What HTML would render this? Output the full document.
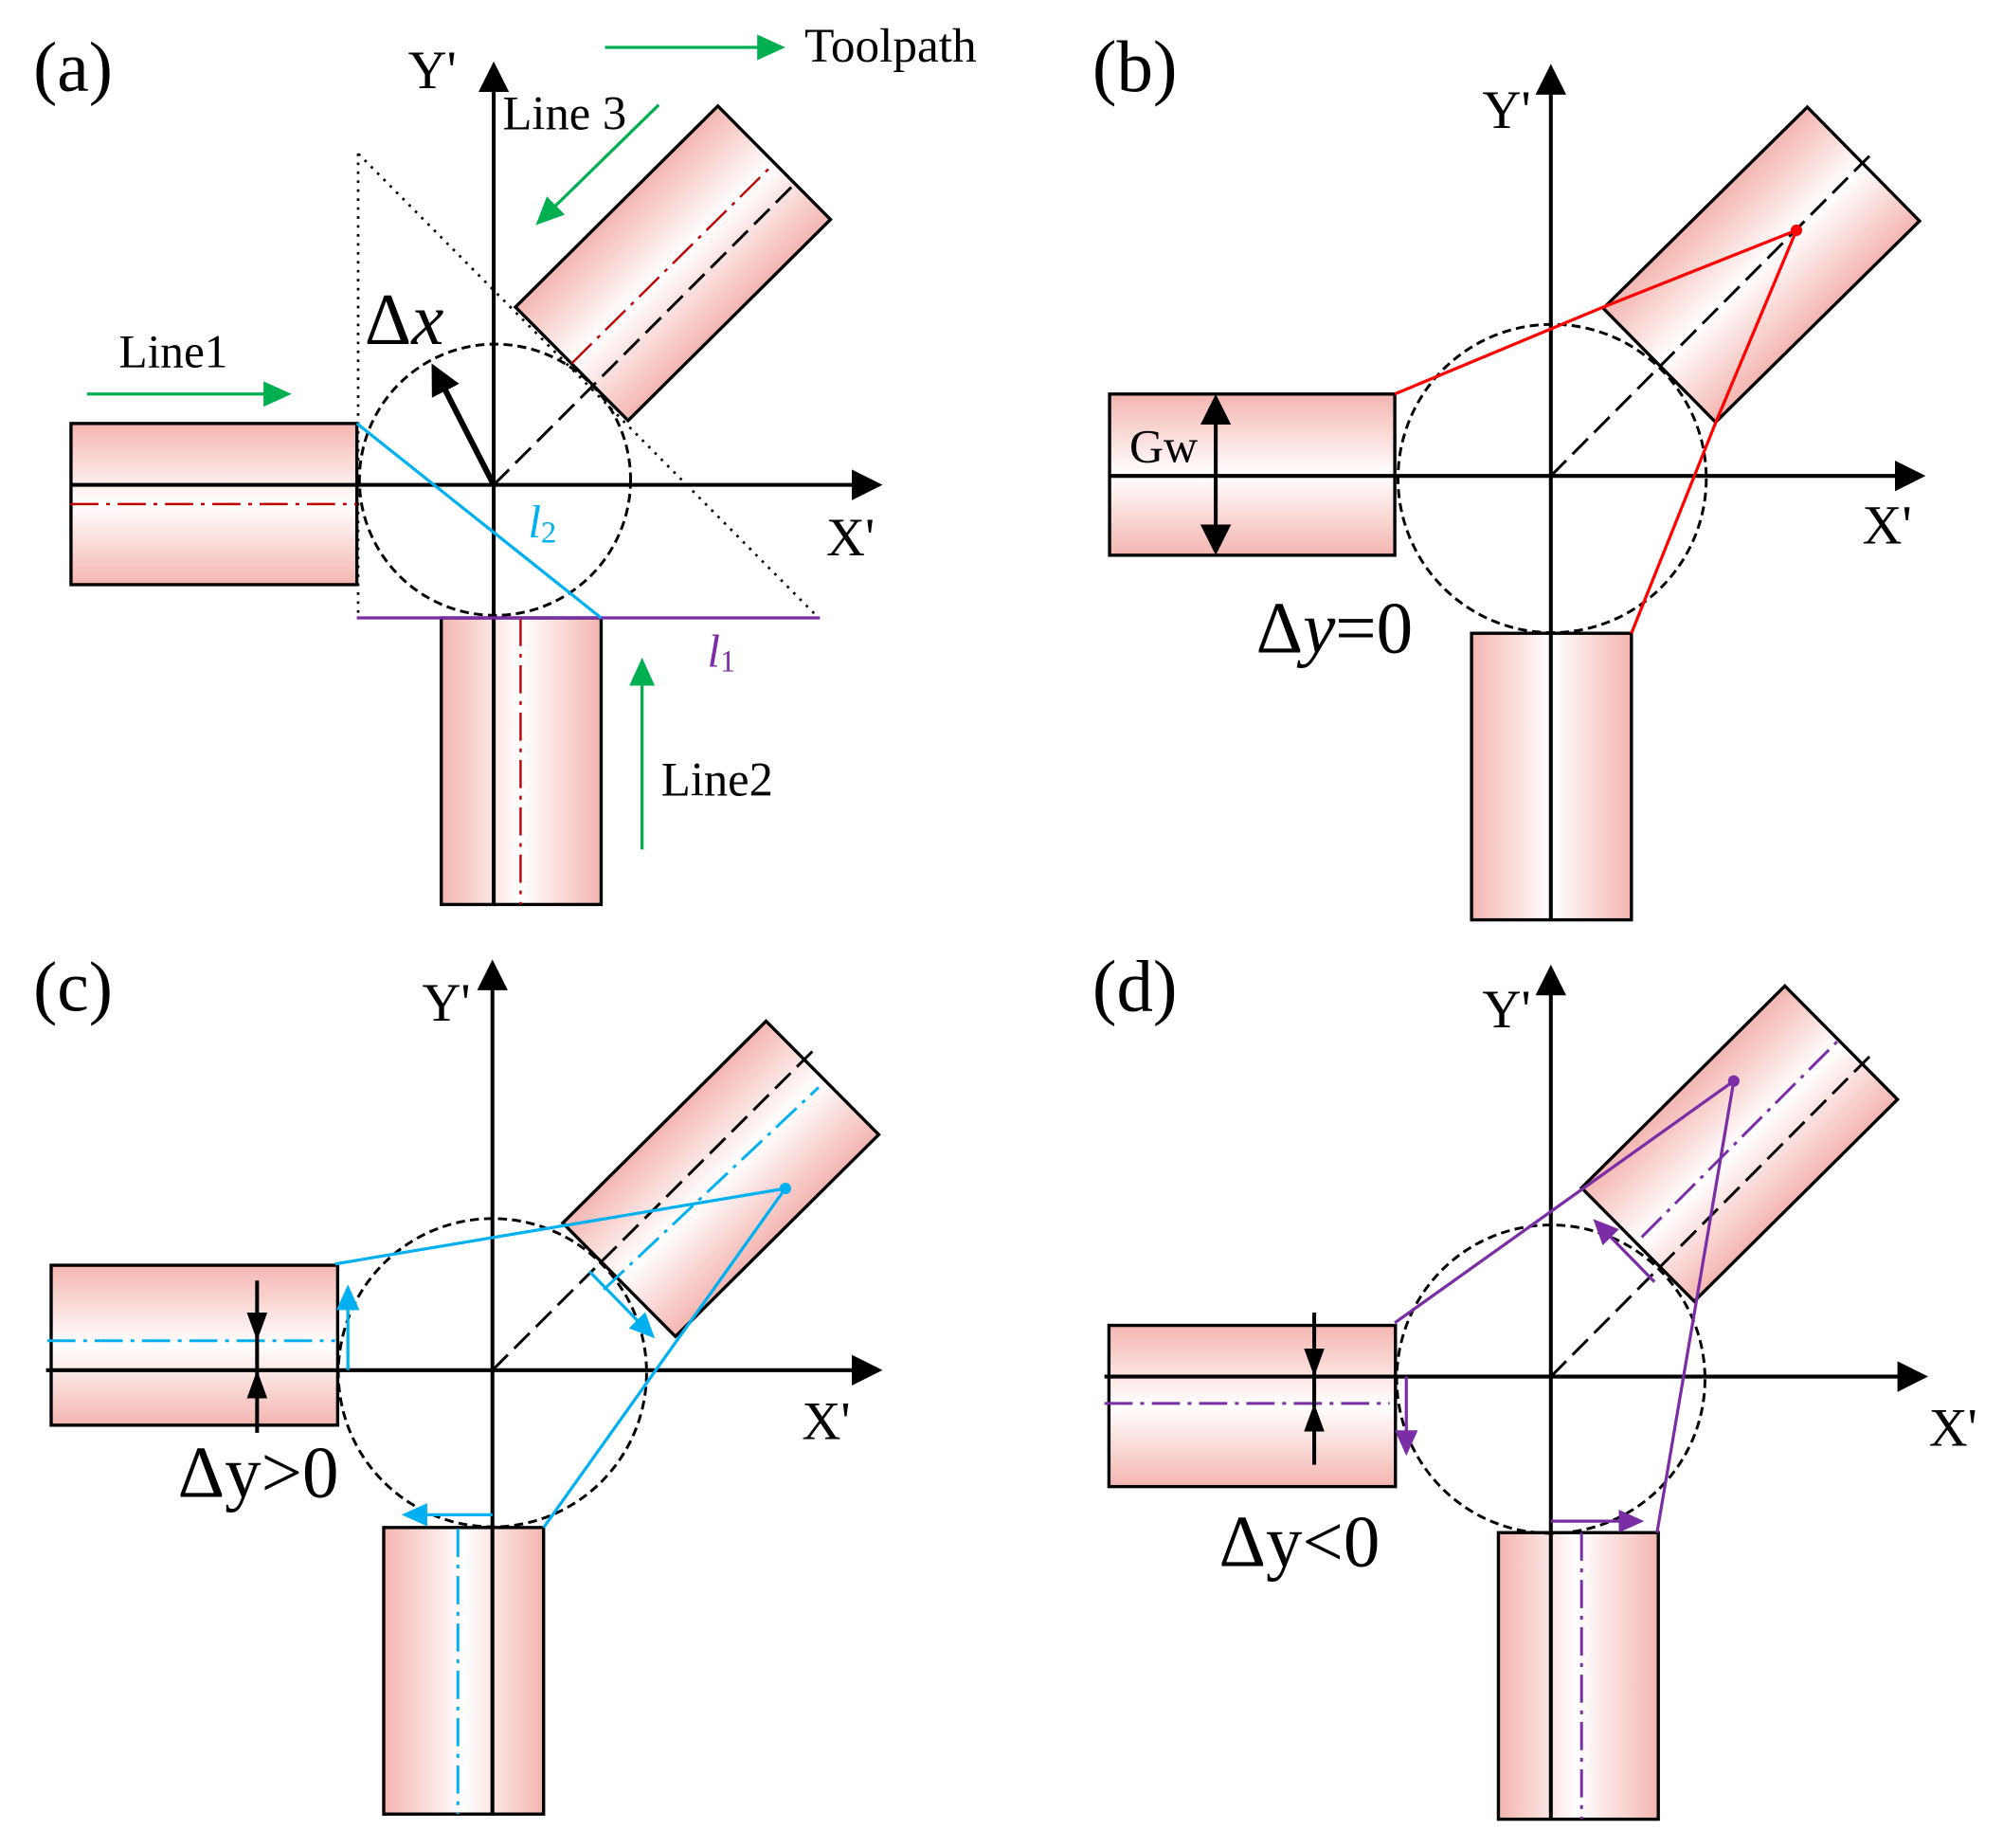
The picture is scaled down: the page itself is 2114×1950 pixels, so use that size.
<!DOCTYPE html>
<html><head><meta charset="utf-8"><style>
html,body{margin:0;padding:0;background:#fff}
svg{display:block}
text{font-family:"Liberation Serif",serif;fill:#000}
.r{stroke:#000;stroke-width:2.5}
.ax{stroke:#000;stroke-width:3;fill:none}
.c{fill:none;stroke:#000;stroke-width:2.2;stroke-dasharray:7 4}
.d{stroke:#000;stroke-width:2.2;stroke-dasharray:17 7;fill:none}
.dd{stroke-width:1.8;stroke-dasharray:22 6 3 6;fill:none}
</style></head><body>
<svg xmlns="http://www.w3.org/2000/svg" width="2114" height="1950" viewBox="0 0 1566 1444.5">
<defs>
<linearGradient id="v" x1="0" y1="0" x2="0" y2="1"><stop offset="0" stop-color="#f4b5b0"/><stop offset=".5" stop-color="#fff"/><stop offset="1" stop-color="#f4b5b0"/></linearGradient>
<linearGradient id="h" x1="0" y1="0" x2="1" y2="0"><stop offset="0" stop-color="#f4b5b0"/><stop offset=".5" stop-color="#fff"/><stop offset="1" stop-color="#f4b5b0"/></linearGradient>
<marker id="mk" markerUnits="userSpaceOnUse" markerWidth="24" markerHeight="24" viewBox="0 0 24 24" refX="14" refY="12" orient="auto"><path d="M0,0L24,12L0,24z" fill="#000"/></marker>
<marker id="ms" markerUnits="userSpaceOnUse" markerWidth="22" markerHeight="16" viewBox="0 0 22 16" refX="12" refY="8" orient="auto"><path d="M0,0L22,8L0,16z" fill="#000"/></marker>
<marker id="mg" markerUnits="userSpaceOnUse" markerWidth="22" markerHeight="20" viewBox="0 0 22 20" refX="12" refY="10" orient="auto"><path d="M0,0L22,10L0,20z" fill="#00b050"/></marker>
<marker id="mb" markerUnits="userSpaceOnUse" markerWidth="20" markerHeight="18" viewBox="0 0 20 18" refX="10" refY="9" orient="auto"><path d="M0,0L20,9L0,18z" fill="#00b0f0"/></marker>
<marker id="mp" markerUnits="userSpaceOnUse" markerWidth="20" markerHeight="18" viewBox="0 0 20 18" refX="10" refY="9" orient="auto"><path d="M0,0L20,9L0,18z" fill="#7a2da5"/></marker>
</defs>
<rect width="1566" height="1444.5" fill="#fff"/>

<!-- (a) -->
<rect class="r" x="55.5" y="331" width="223.5" height="126" fill="url(#v)"/>
<rect class="r" x="345" y="483" width="125" height="224" fill="url(#h)"/>
<rect class="r" x="0" y="0" width="223" height="125" fill="url(#v)" transform="translate(403,240) rotate(-44.8)"/>
<path d="M280,120V483H640L280,120" fill="none" stroke="#000" stroke-width="2" stroke-dasharray="2 5"/>
<circle class="c" cx="387" cy="375" r="106"/>
<path class="d" d="M386,379L622,143"/>
<path class="dd" stroke="#c00000" d="M55,394H279M407,483V707M447,284L605,128"/>
<path class="ax" d="M386,707V58" marker-end="url(#mk)"/>
<path class="ax" d="M55,379H680" marker-end="url(#mk)"/>
<path stroke="#000" stroke-width="4.5" fill="none" d="M386,379L342,293" marker-end="url(#mk)"/>
<path stroke="#7a2da5" stroke-width="2.4" d="M279,483H641"/>
<path stroke="#00b0f0" stroke-width="2.4" d="M279,331L470,483"/>
<g stroke="#00b050" stroke-width="2.4" fill="none">
<path d="M473,37H604" marker-end="url(#mg)"/>
<path d="M515,82L426,169" marker-end="url(#mg)"/>
<path d="M68,308H218" marker-end="url(#mg)"/>
<path d="M502,664V524" marker-end="url(#mg)"/>
</g>
<text x="26" y="71" font-size="56">(a)</text>
<text x="629" y="48" font-size="38">Toolpath</text>
<text x="319" y="69" font-size="42">Y'</text>
<text x="393" y="101" font-size="37.5">Line 3</text>
<text x="93" y="287" font-size="36.5">Line1</text>
<text x="517" y="622" font-size="37.5">Line2</text>
<text x="646" y="434" font-size="42">X'</text>
<text x="285" y="269" font-size="57">Δ<tspan font-style="italic">x</tspan></text>
<text x="413" y="420" font-size="36" font-style="italic" style="fill:#00b0f0">l<tspan font-size="24" font-style="normal" dy="4">2</tspan></text>
<text x="553" y="521" font-size="36" font-style="italic" style="fill:#7a2da5">l<tspan font-size="24" font-style="normal" dy="4">1</tspan></text>

<!-- (b) -->
<g transform="translate(-1.5,0)">
<rect class="r" x="869" y="308" width="223" height="126" fill="url(#v)"/>
<rect class="r" x="1152" y="495" width="125" height="224" fill="url(#h)"/>
<rect class="r" x="0" y="0" width="224" height="125" fill="url(#v)" transform="translate(1255,241) rotate(-44.6)"/>
<circle class="c" cx="1215" cy="374" r="120.5"/>
<path class="d" d="M1214,372L1466,119"/>
<path class="ax" d="M1214,719V60" marker-end="url(#mk)"/>
<path class="ax" d="M869,372H1497" marker-end="url(#mk)"/>
<path stroke="#ff0000" stroke-width="2.4" fill="none" d="M1092,308L1255,240L1406,180L1343,330L1277,495"/>
<circle cx="1406" cy="180" r="4.5" fill="#ff0000"/>
<path stroke="#000" stroke-width="3" fill="none" d="M952,372V318" marker-end="url(#mk)"/>
<path stroke="#000" stroke-width="3" fill="none" d="M952,372V424" marker-end="url(#mk)"/>
</g>
<text x="854" y="71" font-size="57">(b)</text>
<text x="1159" y="100" font-size="42">Y'</text>
<text x="1456" y="425" font-size="43">X'</text>
<text x="883" y="361" font-size="37">Gw</text>
<text x="982" y="510" font-size="57">Δ<tspan font-style="italic">y</tspan>=0</text>

<!-- (c) -->
<rect class="r" x="40" y="989" width="224" height="125" fill="url(#v)"/>
<rect class="r" x="300" y="1194" width="125" height="224" fill="url(#h)"/>
<rect class="r" x="0" y="0" width="224" height="125" fill="url(#v)" transform="translate(440,956) rotate(-44.8)"/>
<circle class="c" cx="385" cy="1073" r="120.5"/>
<path class="d" d="M385,1071L637,820"/>
<path class="dd" stroke="#00b0f0" style="stroke-width:2.2" d="M37,1048H262M358,1195V1418M472,1008L640,850"/>
<path class="ax" d="M385,1418V760" marker-end="url(#mk)"/>
<path class="ax" d="M36,1071H680" marker-end="url(#mk)"/>
<path stroke="#000" stroke-width="3" fill="none" d="M201,1001V1038" marker-end="url(#ms)"/>
<path stroke="#000" stroke-width="3" fill="none" d="M201,1120V1081" marker-end="url(#ms)"/>
<path stroke="#000" stroke-width="3" d="M201,1040V1075"/>
<g stroke="#00b0f0" stroke-width="2.4" fill="none">
<path d="M262,988L614,929L425,1194"/>
<path d="M272,1071V1014" marker-end="url(#mb)"/>
<path d="M461,994L505,1039" marker-end="url(#mb)"/>
<path d="M385,1184H324" marker-end="url(#mb)"/>
</g>
<circle cx="614" cy="929" r="4.5" fill="#00b0f0"/>
<text x="26" y="790" font-size="56">(c)</text>
<text x="330" y="798" font-size="42">Y'</text>
<text x="627" y="1125" font-size="42">X'</text>
<text x="139" y="1170" font-size="57">Δy&gt;0</text>

<!-- (d) -->
<g transform="translate(-1.5,0)">
<rect class="r" x="868.5" y="1036" width="224" height="126" fill="url(#v)"/>
<rect class="r" x="1173" y="1198" width="125" height="224" fill="url(#h)"/>
<rect class="r" x="0" y="0" width="224" height="125" fill="url(#v)" transform="translate(1238,928.5) rotate(-44.8)"/>
<circle class="c" cx="1214" cy="1078" r="120.5"/>
<path class="d" d="M1214,1076L1466,823"/>
<path class="dd" stroke="#7a2da5" style="stroke-width:2.2" d="M865,1097H1088M1238,1198V1422M1285,967L1440,812"/>
<path class="ax" d="M1214,1422V764" marker-end="url(#mk)"/>
<path class="ax" d="M865,1076H1499" marker-end="url(#mk)"/>
<path stroke="#000" stroke-width="3" fill="none" d="M1029,1026V1066" marker-end="url(#ms)"/>
<path stroke="#000" stroke-width="3" fill="none" d="M1029,1145V1107" marker-end="url(#ms)"/>
<path stroke="#000" stroke-width="3" d="M1029,1070V1100"/>
<g stroke="#7a2da5" stroke-width="2.4" fill="none">
<path d="M1092,1034L1357,845L1297,1198"/>
<path d="M1101,1076V1128" marker-end="url(#mp)"/>
<path d="M1295,1002L1254,960" marker-end="url(#mp)"/>
<path d="M1214,1189H1277" marker-end="url(#mp)"/>
</g>
<circle cx="1357" cy="845" r="4.5" fill="#7a2da5"/>
</g>
<text x="854" y="790" font-size="57">(d)</text>
<text x="1159" y="803" font-size="42">Y'</text>
<text x="1508" y="1130" font-size="42">X'</text>
<text x="953" y="1224" font-size="57">Δy&lt;0</text>
</svg>
</body></html>
